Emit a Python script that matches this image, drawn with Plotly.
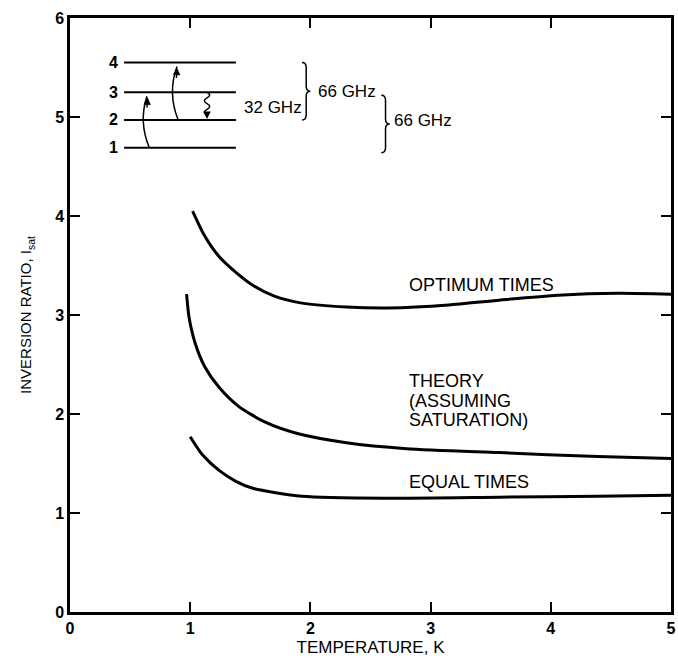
import plotly.graph_objects as go

# Inversion ratio versus temperature, three curves
opt_t = [1.02, 1.12, 1.24, 1.38, 1.52, 1.70, 1.93, 2.30, 2.65, 3.15, 3.57, 4.06, 4.56, 5.02]
opt_r = [4.05, 3.80, 3.59, 3.43, 3.30, 3.19, 3.12, 3.08, 3.07, 3.10, 3.15, 3.20, 3.22, 3.21]

theory_t = [0.97, 0.99, 1.04, 1.12, 1.24, 1.40, 1.62, 1.90, 2.30, 2.80, 3.57, 4.39, 5.02]
theory_r = [3.21, 2.98, 2.72, 2.48, 2.27, 2.08, 1.92, 1.80, 1.71, 1.65, 1.61, 1.57, 1.55]

equal_t = [1.00, 1.10, 1.24, 1.38, 1.52, 1.93, 2.65, 3.57, 4.39, 5.02]
equal_r = [1.77, 1.59, 1.43, 1.32, 1.25, 1.17, 1.15, 1.16, 1.17, 1.18]

x_ticks = [0, 1, 2, 3, 4, 5]
y_ticks = [0, 1, 2, 3, 4, 5, 6]

# Energy-level inset (data coordinates)
level_names = ["1", "2", "3", "4"]
level_y = [4.69, 4.97, 5.25, 5.55]
level_x0, level_x1 = 0.45, 1.38
label_x = 0.36

FONT = "Liberation Sans, Arial, sans-serif"
BLACK = "#000000"

fig = go.Figure()
for t, r in [(opt_t, opt_r), (theory_t, theory_r), (equal_t, equal_r)]:
    fig.add_trace(go.Scatter(x=t, y=r, mode="lines",
                             line=dict(color=BLACK, width=3, shape="spline", smoothing=0.7),
                             hoverinfo="skip", showlegend=False))

shapes = []
annotations = []

# energy levels
for name, y in zip(level_names, level_y):
    shapes.append(dict(type="line", xref="x", yref="y", x0=level_x0, x1=level_x1,
                       y0=y, y1=y, line=dict(color=BLACK, width=2)))
    annotations.append(dict(x=label_x, y=y, xref="x", yref="y", text=f"<b>{name}</b>",
                            showarrow=False, font=dict(family=FONT, size=16, color=BLACK)))

# curved pump arrows 1->3 and 2->4
def curved(xb, xm, xt, yb, yt):
    return f"M {xb},{yb} Q {xm},{(yb + yt) / 2} {xt},{yt}"

shapes.append(dict(type="path", xref="x", yref="y",
                   path=curved(0.66, 0.57, 0.64, level_y[0], level_y[2] - 0.04),
                   line=dict(color=BLACK, width=1.5)))
shapes.append(dict(type="path", xref="x", yref="y",
                   path=curved(0.90, 0.81, 0.89, level_y[1], level_y[3] - 0.04),
                   line=dict(color=BLACK, width=1.5)))
for xt, yt in [(0.645, level_y[2] - 0.05), (0.89, level_y[3] - 0.05)]:
    annotations.append(dict(x=xt, y=yt, ax=xt - 0.005, ay=yt - 0.12, xref="x", yref="y",
                            axref="x", ayref="y", text="", showarrow=True,
                            arrowhead=2, arrowsize=1, arrowwidth=1.5, arrowcolor=BLACK))

# wavy signal transition 3->2
wx = 1.14
wy0, wy1 = level_y[2], level_y[1] + 0.05
seg = (wy0 - wy1) / 4
wave = f"M {wx},{wy0} "
for i in range(4):
    ya = wy0 - seg * i
    dx = 0.045 if i % 2 == 0 else -0.045
    wave += f"Q {wx + dx},{ya - seg / 2} {wx},{ya - seg} "
shapes.append(dict(type="path", xref="x", yref="y", path=wave,
                   line=dict(color=BLACK, width=1.5)))
annotations.append(dict(x=wx, y=level_y[1] + 0.01, ax=wx, ay=level_y[1] + 0.09,
                        xref="x", yref="y", axref="x", ayref="y", text="",
                        showarrow=True, arrowhead=2, arrowsize=1, arrowwidth=1.5,
                        arrowcolor=BLACK))

# right-pointing braces
def brace(x0, yt, yb, w=0.07, r=0.05):
    xm = x0 + w / 2
    xt = x0 + w
    ym = (yt + yb) / 2
    return (f"M {x0},{yt} Q {xm},{yt} {xm},{yt - r} L {xm},{ym + r} "
            f"Q {xm},{ym} {xt},{ym} Q {xm},{ym} {xm},{ym - r} "
            f"L {xm},{yb + r} Q {xm},{yb} {x0},{yb}")

shapes.append(dict(type="path", xref="x", yref="y", path=brace(1.93, level_y[3], level_y[1]),
                   line=dict(color=BLACK, width=1.5)))
shapes.append(dict(type="path", xref="x", yref="y", path=brace(2.59, level_y[2] - 0.03, level_y[0] - 0.05),
                   line=dict(color=BLACK, width=1.5)))

inset_font = dict(family=FONT, size=17, color=BLACK)
annotations.append(dict(x=1.43, y=5.10, xref="x", yref="y", text="32 GHz", xanchor="left",
                        showarrow=False, font=inset_font))
annotations.append(dict(x=2.05, y=5.26, xref="x", yref="y", text="66 GHz", xanchor="left",
                        showarrow=False, font=inset_font))
annotations.append(dict(x=2.68, y=4.96, xref="x", yref="y", text="66 GHz", xanchor="left",
                        showarrow=False, font=inset_font))

# curve labels
curve_font = dict(family=FONT, size=18, color=BLACK)
curve_labels = [
    ("OPTIMUM TIMES", 3.30),
    ("THEORY", 2.33),
    ("(ASSUMING", 2.13),
    ("SATURATION)", 1.94),
    ("EQUAL TIMES", 1.31),
]
for text, y in curve_labels:
    annotations.append(dict(x=2.80, y=y, xref="x", yref="y", text=text,
                            xanchor="left", showarrow=False, font=curve_font))

axis_common = dict(showline=True, linecolor=BLACK, linewidth=2.5, mirror="ticks",
                   ticks="inside", ticklen=10, tickwidth=1.5, tickcolor=BLACK,
                   showgrid=False, zeroline=False,
                   tickfont=dict(family=FONT, size=16, color=BLACK))

fig.update_layout(
    width=678, height=661,
    margin=dict(l=70, r=2, t=18, b=49),
    paper_bgcolor="white", plot_bgcolor="white",
    showlegend=False,
    shapes=shapes, annotations=annotations,
    xaxis=dict(range=[0, 5], tickvals=x_ticks, ticktext=[f"<b>{v}</b>" for v in x_ticks],
               title=dict(text="TEMPERATURE, K", standoff=6,
                          font=dict(family=FONT, size=17, color=BLACK)),
               **axis_common),
    yaxis=dict(range=[0, 6], tickvals=y_ticks, ticktext=[f"<b>{v}</b>" for v in y_ticks],
               title=dict(text="INVERSION RATIO, I<sub>sat</sub>", standoff=20,
                          font=dict(family=FONT, size=15, color=BLACK)),
               **axis_common),
)

fig.write_html("out.html")
